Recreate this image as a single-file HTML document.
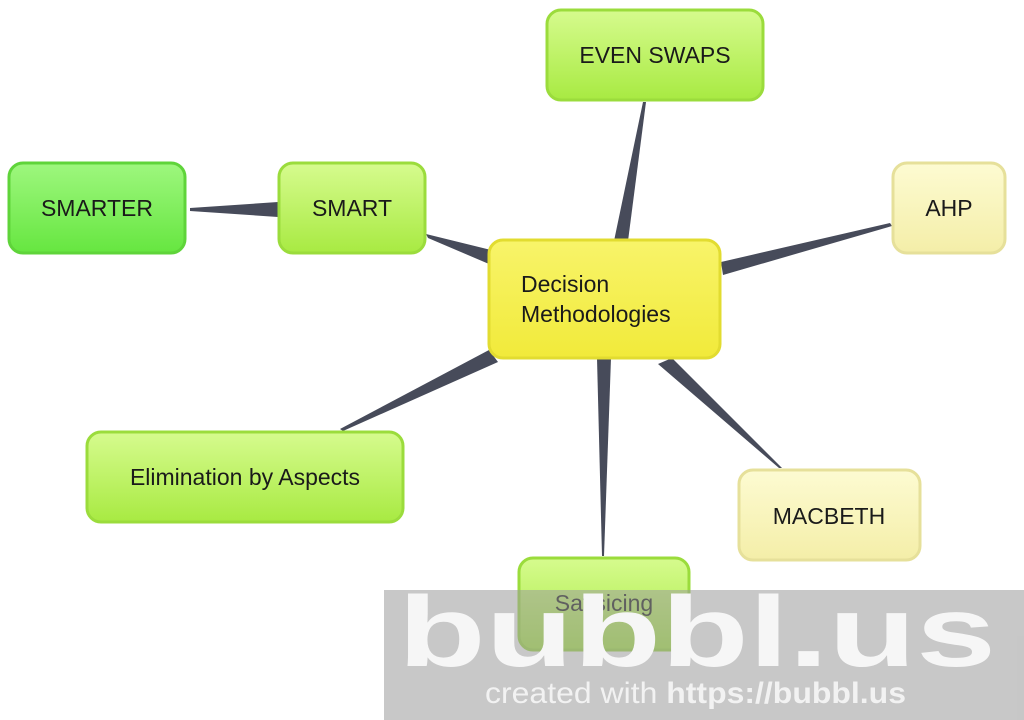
<!DOCTYPE html>
<html><head><meta charset="utf-8"><style>
html,body{margin:0;padding:0;background:#fff;}
svg{display:block;}
text{font-family:"Liberation Sans",sans-serif;}
</style></head><body>
<svg width="1024" height="720" viewBox="0 0 1024 720" xmlns="http://www.w3.org/2000/svg">
<defs>
<linearGradient id="g1" x1="0" y1="0" x2="0" y2="1"><stop offset="0" stop-color="#d6fb8e"/><stop offset="1" stop-color="#a8ea42"/></linearGradient>
<linearGradient id="g2" x1="0" y1="0" x2="0" y2="1"><stop offset="0" stop-color="#9ef77e"/><stop offset="1" stop-color="#66e640"/></linearGradient>
<linearGradient id="g3" x1="0" y1="0" x2="0" y2="1"><stop offset="0" stop-color="#fdfbd2"/><stop offset="1" stop-color="#f4eea8"/></linearGradient>
<linearGradient id="g4" x1="0" y1="0" x2="0" y2="1"><stop offset="0" stop-color="#f8f46a"/><stop offset="1" stop-color="#f1ea3a"/></linearGradient>
</defs>
<g fill="#474b5a">
<polygon points="614,241 628,241 646,102 643,102"/>
<polygon points="278,202 278,217 190,211 190,208"/>
<polygon points="426,234 428,238 489,264 491,250"/>
<polygon points="721,262 723,275 892,226 890,223"/>
<polygon points="489,350 498,362 343,431 340,429"/>
<polygon points="597,358 611,358 604,556 602,556"/>
<polygon points="658,364 672,358 782,468 779,468"/>
</g>
<g stroke-width="3">
<rect x="547" y="10" width="216" height="90" rx="14" fill="url(#g1)" stroke="#9bdc3c"/>
<rect x="9" y="163" width="176" height="90" rx="14" fill="url(#g2)" stroke="#5fd43a"/>
<rect x="279" y="163" width="146" height="90" rx="14" fill="url(#g1)" stroke="#9bdc3c"/>
<rect x="893" y="163" width="112" height="90" rx="14" fill="url(#g3)" stroke="#e6e09a"/>
<rect x="489" y="240" width="231" height="118" rx="14" fill="url(#g4)" stroke="#e2dc30"/>
<rect x="87" y="432" width="316" height="90" rx="14" fill="url(#g1)" stroke="#9bdc3c"/>
<rect x="739" y="470" width="181" height="90" rx="14" fill="url(#g3)" stroke="#e6e09a"/>
<rect x="519" y="558" width="170" height="92" rx="14" fill="url(#g1)" stroke="#9bdc3c"/>
</g>
<g font-size="23" fill="#1a1a1a" text-anchor="middle">
<text x="655" y="63">EVEN SWAPS</text>
<text x="97" y="216">SMARTER</text>
<text x="352" y="216">SMART</text>
<text x="949" y="216">AHP</text>
<text x="245" y="485">Elimination by Aspects</text>
<text x="829" y="524">MACBETH</text>
<text x="604" y="611">Satisicing</text>
<text x="521" y="292" text-anchor="start">Decision</text>
<text x="521" y="322" text-anchor="start">Methodologies</text>
</g>
<rect x="384" y="590" width="640" height="130" fill="#9a9a9a" fill-opacity="0.55"/>
<text x="398" y="666" font-size="100" font-weight="bold" fill="#f6f6f6" textLength="598" lengthAdjust="spacingAndGlyphs">bubbl.us</text>
<text x="485" y="703" font-size="30" fill="#f2f2f2" textLength="421" lengthAdjust="spacingAndGlyphs">created with <tspan font-weight="bold">https://bubbl.us</tspan></text>
</svg>
</body></html>
